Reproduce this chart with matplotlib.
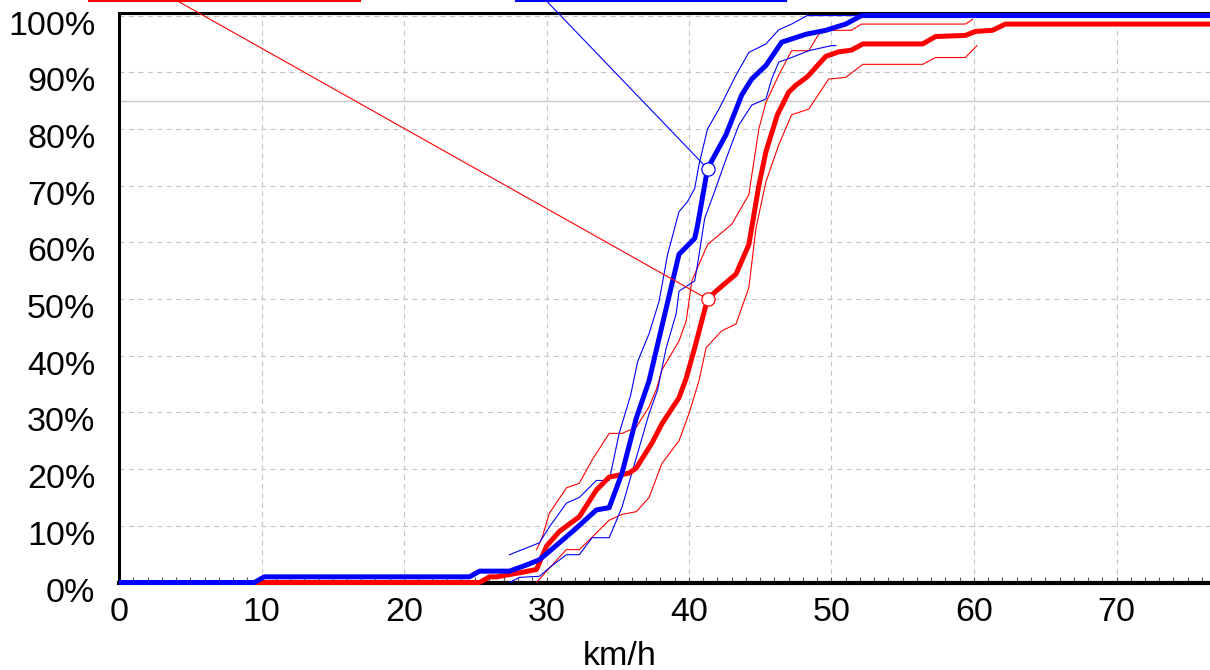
import matplotlib
matplotlib.use("Agg")
import matplotlib.pyplot as plt
import matplotlib.transforms as mtransforms
from matplotlib.lines import Line2D
from matplotlib.ticker import MultipleLocator, FixedLocator

plt.rcParams['font.family'] = ['Liberation Sans', 'DejaVu Sans']

# ---- cumulative speed distributions (km/h, % of vehicles) ----
red_x = [0, 25.3, 26.0, 26.5, 28.3, 29.3, 30.0, 30.9, 32.3, 33.5, 34.4, 35.8, 36.3,
         37.4, 38.1, 39.3, 39.8, 40.4, 41.3, 41.9, 43.3, 44.2, 44.9, 45.4, 46.2,
         47.0, 47.5, 48.3, 49.6, 50.5, 51.4, 52.2, 56.4, 57.3, 59.4, 60.1, 61.3,
         62.2, 80]
red_y = [0, 0, 1, 1, 1.8, 2.3, 6.4, 9, 11.6, 16.3, 18.6, 19.3, 20.2,
         24.6, 28, 32.6, 36, 41.4, 50, 51.4, 54.4, 59.6, 70, 76, 82.5,
         86.5, 87.7, 89.2, 92.8, 93.6, 93.9, 95, 95, 96.3, 96.5, 97.2, 97.4,
         98.5, 98.5]

blue_x = [0, 9.5, 10.2, 24.6, 25.3, 27.4, 28.5, 29.5, 30.2, 30.9, 32.1, 33.5, 34.4,
          35.3, 36.3, 37.2, 38.4, 39.3, 40.4, 40.6, 41.3, 42.6, 43.7, 44.4, 45.4,
          46.5, 48.2, 49.6, 51.0, 52.1, 80]
blue_y = [0, 0, 1, 1, 2, 2, 3, 4, 5.5, 7, 9.6, 12.8, 13.2,
          19.3, 29, 35.6, 48.4, 57.9, 60.7, 63, 73, 79, 86, 88.8, 91.2,
          95.3, 96.7, 97.4, 98.5, 100, 100]

# confidence band limits
red_hi_x = [29.3, 29.7, 30.2, 31.4, 32.3, 33.2, 34.4, 35.3, 36.3, 37.2, 37.7, 38.1,
            39.3, 39.8, 40.2, 41.3, 43.0, 44.2, 44.9, 45.4, 46.3, 47.2, 48.4, 49.1,
            49.8, 51.4, 52.1, 59.4, 59.9]
red_hi_y = [5.8, 8, 12.2, 16.7, 17.5, 21.6, 26.3, 26.3, 27.4, 31, 34, 37.5,
            42.6, 46.1, 53.2, 59.6, 63.2, 68.4, 80, 84.7, 89.5, 93.8, 93.8, 96.7,
            97.4, 97.4, 98.5, 98.5, 99.3]
red_lo_x = [29.3, 30.0, 31.4, 32.3, 33.2, 34.4, 35.3, 36.3, 37.2, 38.1, 39.3, 40.0,
            40.7, 41.2, 42.3, 43.3, 44.2, 44.7, 45.4, 46.3, 47.2, 48.4, 49.8, 51.0,
            52.2, 56.4, 57.3, 59.4, 60.2]
red_lo_y = [0, 2, 5.8, 5.8, 8, 11, 12, 12.5, 15, 21, 25, 29.8,
            35.6, 41.4, 44.4, 45.6, 52, 62.5, 70.7, 77.2, 82.5, 83.5, 88.8, 89.1,
            91.4, 91.4, 92.6, 92.6, 94.7]
blue_hi_x = [27.4, 29.5, 30.2, 31.4, 32.3, 33.5, 34.4, 35.1, 35.9, 36.4, 37.2, 37.9,
             38.5, 39.3, 39.9, 40.4, 40.7, 41.3, 42.1, 43.3, 44.2, 45.4, 46.3, 47.2,
             48.3, 52]
blue_hi_y = [4.9, 7, 9.8, 14, 15, 18, 18, 26.3, 33, 39, 43.9, 49.6,
             57.9, 65.4, 67.2, 69.5, 73.7, 80, 83.5, 89.5, 93.5, 95, 97.5, 98.5,
             100, 100]
blue_lo_x = [27.4, 28.1, 29.5, 30.2, 31.4, 32.3, 33.2, 34.4, 35.3, 36.3, 37.2, 37.8,
             38.4, 39.1, 39.3, 40.4, 40.6, 41.1, 41.8, 42.6, 43.5, 44.4, 45.4, 45.8,
             46.3, 47.2, 48.4, 50.0, 50.3]
blue_lo_y = [0, 0.9, 1.1, 2.6, 4.9, 4.9, 7.9, 7.9, 13.3, 22, 29.8, 34,
             41.4, 47.4, 51.4, 53.2, 56.1, 64.2, 69, 74.7, 80.7, 84.2, 85.3, 88.8,
             91.8, 92.6, 93.8, 94.7, 94.7]

# marked points (speed, cumulative %)
marker_speed = 41.3
red_marker_pct = 50
blue_marker_pct = 73

x_ticks = [0, 10, 20, 30, 40, 50, 60, 70]
y_ticks = [0, 10, 20, 30, 40, 50, 60, 70, 80, 90, 100]
y_ticklabels = [f"{v}%" for v in y_ticks]
ref_level = 85

RED = '#FF0000'
BLUE = '#0000FF'
FS = 24.5

W, H = 1210, 670
fig = plt.figure(figsize=(W / 100, H / 100), dpi=100)
left_px, bottom_px, height_px = 119, 87.5, 569.2
px_per_kmh = 14.25
xmax = 80
ax = fig.add_axes([left_px / W, bottom_px / H, xmax * px_per_kmh / W, height_px / H])
ax.set_xlim(0, xmax)
ax.set_ylim(0, 100.4)

# grid and reference line
ax.xaxis.set_major_locator(FixedLocator(x_ticks))
ax.xaxis.set_minor_locator(MultipleLocator(1))
ax.yaxis.set_major_locator(FixedLocator(y_ticks))
ax.grid(True, which='major', color='#C4C4C4', lw=0.8, ls=(0, (4.5, 4)), zorder=0)
ax.axhline(ref_level, color='#C8C8C8', lw=1.0, zorder=1)

# bands
for bx, by, c in [(red_hi_x, red_hi_y, RED), (red_lo_x, red_lo_y, RED),
                  (blue_hi_x, blue_hi_y, BLUE), (blue_lo_x, blue_lo_y, BLUE)]:
    ax.plot(bx, by, color=c, lw=0.8, zorder=3)

# main curves
ax.plot(red_x, red_y, color=RED, lw=3.6, zorder=4, clip_on=False,
        solid_capstyle='butt')
ax.plot(blue_x, blue_y, color=BLUE, lw=3.6, zorder=4.1, clip_on=False,
        solid_capstyle='butt')

# leader lines to the legend boxes
for pct, c, top_x in [(red_marker_pct, RED, 158), (blue_marker_pct, BLUE, 536)]:
    ax.annotate('', xy=(marker_speed, pct), xycoords='data',
                xytext=(top_x, 680), textcoords='figure pixels',
                arrowprops=dict(arrowstyle='-', color=c, lw=0.8,
                                shrinkA=0, shrinkB=0),
                annotation_clip=False, zorder=5)
    ax.plot([marker_speed], [pct], 'o', mfc='white', mec=c, ms=9.5, mew=0.9,
            zorder=6)

fig.add_artist(Line2D([89 / W, 360 / W], [669.3 / H, 669.3 / H], color=RED,
                      lw=1.5, transform=fig.transFigure))
fig.add_artist(Line2D([516 / W, 786 / W], [669.3 / H, 669.3 / H], color=BLUE,
                      lw=1.5, transform=fig.transFigure))

# spines
for side in ['top', 'left']:
    ax.spines[side].set_linewidth(2.2)
    ax.spines[side].set_color('black')
ax.spines['bottom'].set_linewidth(3.0)
ax.spines['bottom'].set_color('black')
ax.spines['right'].set_visible(False)

# ticks
ax.tick_params(axis='x', which='both', direction='in', length=4, width=0.8,
               color='#555555', labelsize=FS, pad=10.5)
ax.tick_params(axis='y', which='both', length=0, labelsize=FS, pad=17)
ax.set_xticklabels([str(v) for v in x_ticks])
ax.set_yticklabels(y_ticklabels)
shift = mtransforms.ScaledTranslation(0, -7 / 100, fig.dpi_scale_trans)
for lab in ax.get_yticklabels():
    lab.set_transform(lab.get_transform() + shift)

ax.set_xlabel('km/h', fontsize=FS)
ax.xaxis.set_label_coords((620 - left_px) / (xmax * px_per_kmh), -(641 - 582.5) / height_px)
ax.xaxis.label.set_va('top')

fig.savefig('out.png', dpi=100, facecolor='white')
